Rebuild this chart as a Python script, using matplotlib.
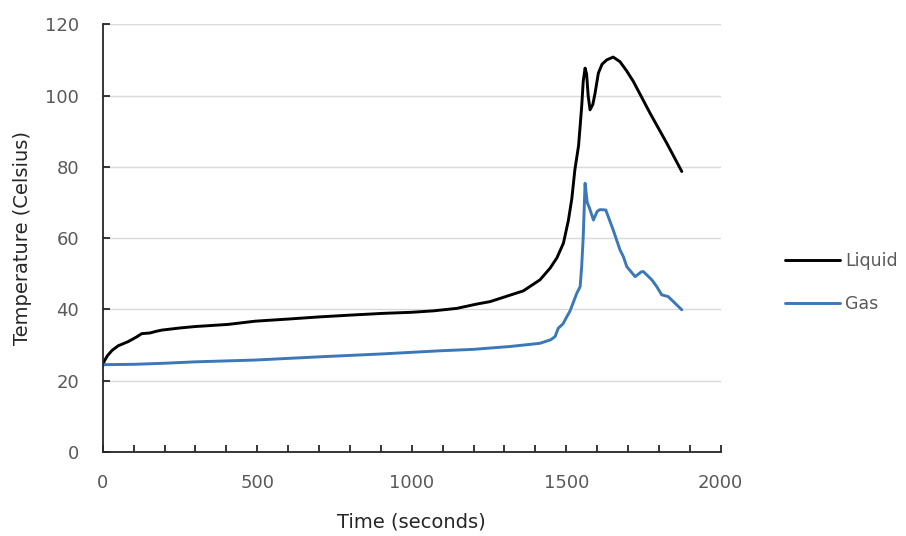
import matplotlib
matplotlib.use("Agg")
import matplotlib.pyplot as plt
from matplotlib.ticker import MultipleLocator

plt.rcParams['font.family'] = ['DejaVu Sans']

# Time (s) and temperature (°C) for the liquid probe
liquid_time = [0, 5, 15, 30, 50, 83, 110, 126, 153, 175, 191, 250, 299, 406, 493, 600,
               700, 800, 908, 1000, 1070, 1146, 1210, 1254, 1318, 1361, 1415, 1448,
               1470, 1491, 1507, 1518, 1528, 1540, 1550, 1555, 1561, 1566, 1571, 1577,
               1586, 1593, 1604, 1616, 1631, 1652, 1674, 1695, 1717, 1771, 1825, 1874]
liquid_temp = [24.2, 25.5, 27.0, 28.5, 29.8, 31.0, 32.3, 33.2, 33.4, 33.9, 34.2, 34.8,
               35.2, 35.8, 36.7, 37.3, 37.9, 38.4, 38.9, 39.2, 39.6, 40.3, 41.5, 42.2,
               44.0, 45.2, 48.3, 51.6, 54.5, 58.6, 65.0, 71.0, 79.2, 86.0, 96.9, 104.0,
               107.7, 106.0, 100.0, 96.0, 97.5, 100.5, 106.3, 108.8, 110.0, 110.8,
               109.5, 107.0, 104.0, 95.1, 86.7, 78.7]

# Time (s) and temperature (°C) for the gas probe
gas_time = [0, 100, 200, 300, 493, 700, 900, 1092, 1200, 1318, 1415, 1450, 1464, 1474,
            1490, 1502, 1512, 1534, 1545, 1550, 1555, 1561, 1568, 1575, 1588, 1600,
            1609, 1628, 1652, 1674, 1685, 1696, 1723, 1744, 1750, 1777, 1793, 1809,
            1830, 1874]
gas_temp = [24.5, 24.6, 24.9, 25.3, 25.8, 26.7, 27.5, 28.4, 28.8, 29.6, 30.5, 31.5,
            32.4, 34.7, 36.0, 38.0, 39.5, 44.5, 46.4, 52.0, 60.4, 75.4, 70.0, 68.5,
            65.1, 67.5, 68.0, 67.9, 62.3, 56.7, 54.8, 52.0, 49.2, 50.6, 50.6, 48.3,
            46.4, 44.1, 43.6, 39.9]

series_names = ["Liquid", "Gas"]
x_label = "Time (seconds)"
y_label = "Temperature (Celsius)"

fig = plt.figure(figsize=(9.06, 5.36), dpi=100)
ax = fig.add_axes([0.1134, 0.1567, 0.6821, 0.798])

ax.plot(liquid_time, liquid_temp, color="black", lw=2.1, label=series_names[0],
        solid_joinstyle="round", solid_capstyle="round")
ax.plot(gas_time, gas_temp, color="#3a78b8", lw=2.1, label=series_names[1],
        solid_joinstyle="round", solid_capstyle="round")

ax.set_xlim(0, 2000)
ax.set_ylim(0, 120)
ax.xaxis.set_major_locator(MultipleLocator(500))
ax.xaxis.set_minor_locator(MultipleLocator(100))
ax.yaxis.set_major_locator(MultipleLocator(20))

ax.grid(axis="y", color="#d9d9d9", lw=1.0)
ax.set_axisbelow(True)
for s in ("top", "right"):
    ax.spines[s].set_visible(False)
for s in ("left", "bottom"):
    ax.spines[s].set_color("#262626")
    ax.spines[s].set_linewidth(1.3)

ax.tick_params(axis="x", which="both", direction="in", length=5, width=1.3,
               color="#262626", labelsize=13, labelcolor="#595959", pad=16)
ax.tick_params(axis="y", which="major", direction="in", length=5, width=1.3,
               color="#262626", labelsize=13, labelcolor="#595959", pad=17)

ax.set_xlabel(x_label, fontsize=14, color="#262626", va="center")
ax.xaxis.set_label_coords(0.5, -0.164)
ax.set_ylabel(y_label, fontsize=14, color="#262626", va="center")
ax.yaxis.set_label_coords(-0.1306, 0.5)

leg = fig.legend(loc="center left", bbox_to_anchor=(0.8664, 0.473), frameon=False,
                 fontsize=12.5, handlelength=3.16, handletextpad=0.3,
                 labelspacing=1.44, borderpad=0, borderaxespad=0)
for t in leg.get_texts():
    t.set_color("#595959")

fig.savefig("out.png", dpi=100)
